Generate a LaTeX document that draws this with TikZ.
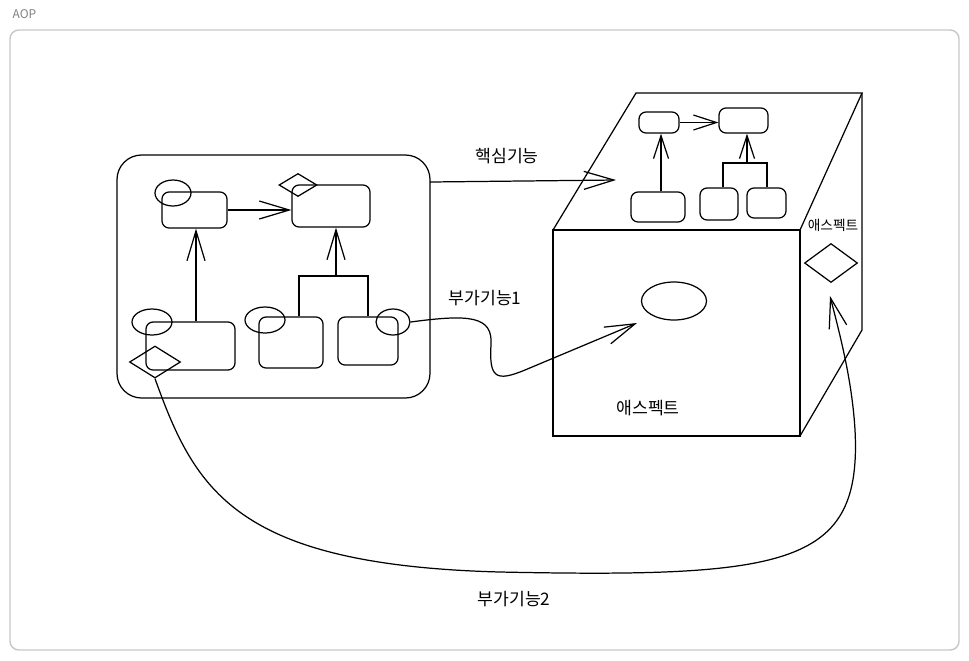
\documentclass[tikz,border=0pt]{standalone}
\usepackage{fontspec}
\setmainfont{Noto Sans CJK KR}
\usepackage{tikz}
\usetikzlibrary{shapes,shapes.geometric,positioning,calc,arrows.meta}

\begin{document}
\begin{tikzpicture}[
    x=0.02cm, y=-0.02cm,
    line width=0.7pt,
    every node/.style={inner sep=0pt},
    box/.style={draw, rounded corners=4pt, minimum width=#1},
    blob/.style={draw, ellipse},
    gem/.style={draw, diamond},
    lbl/.style={font=\fontsize{9.8pt}{11pt}\selectfont},
    barb/.style={-{Straight Barb[length=6mm,width=3.6mm]}},
    smallbarb/.style={-{Straight Barb[length=4.6mm,width=3mm]}}
]
    \useasboundingbox (0,0) rectangle (969,660);
    \draw[line width=0.8pt, black!22, rounded corners=5pt] (10,30) rectangle (959,650);
    \node[anchor=west, text=black!50, font=\fontsize{6.8pt}{7pt}\selectfont] (title) at (12,14) {AOP};

    \draw[rounded corners=14pt] (117,155) rectangle (430,398);
    \coordinate (bigE) at (430,182);

    \node[box=1.3cm, minimum height=0.72cm] (a) at (194.5,210) {};
    \node[box=1.56cm, minimum height=0.84cm] (b) at (331,206) {};
    \node[box=1.78cm, minimum height=0.96cm] (c) at (190.5,346) {};
    \node[box=1.28cm, minimum height=1.02cm] (d) at (291,342.5) {};
    \node[box=1.2cm, minimum height=0.96cm] (e) at (368,341) {};

    \node[blob, minimum width=0.72cm, minimum height=0.52cm] (ca) at (173,193) {};
    \node[blob, minimum width=0.8cm, minimum height=0.52cm] (cc) at (152,322) {};
    \node[blob, minimum width=0.8cm, minimum height=0.52cm] (cd) at (265,320) {};
    \node[blob, minimum width=0.68cm, minimum height=0.52cm] (ce) at (393,322) {};
    \node[gem, minimum width=0.76cm, minimum height=0.46cm] (db) at (298,185) {};
    \node[gem, minimum width=1.02cm, minimum height=0.64cm] (dc) at (155,362) {};

    \draw[barb] (a.east) -- (b.west |- a.east);
    \draw[barb] (c.north -| 196,0) -- (a.south -| 196,0);
    \coordinate (jl) at (299,276);
    \coordinate (jr) at (368,276);
    \coordinate (jm) at (336,276);
    \draw (d.north -| jl) -- (jl) -- (jr) -- (e.north -| jr);
    \draw[barb] (jm) -- (b.south -| jm);

    \coordinate (ftl) at (553,230);
    \coordinate (ftr) at (800,230);
    \coordinate (fbl) at (553,436);
    \coordinate (fbr) at (800,436);
    \coordinate (btl) at (636,93);
    \coordinate (btr) at (862,93);
    \coordinate (bbr) at (862,330);
    \draw (ftl) rectangle (fbr);
    \draw (ftl) -- (btl) -- (btr) -- (ftr);
    \draw (btr) -- (bbr) -- (fbr);

    \node[box=0.8cm, minimum height=0.42cm] (t1) at (659,122.5) {};
    \node[box=0.98cm, minimum height=0.5cm] (t2) at (743.5,120.5) {};
    \node[box=1.08cm, minimum height=0.6cm] (t3) at (658,207) {};
    \node[box=0.76cm, minimum height=0.64cm] (t4) at (719,204) {};
    \node[box=0.78cm, minimum height=0.6cm] (t5) at (766.5,203) {};
    \draw[smallbarb] (t1.east) -- (t2.west |- t1.east);
    \draw[smallbarb] (t3.north -| 661,0) -- (t1.south -| 661,0);
    \coordinate (tl) at (723,163);
    \coordinate (tr) at (767,163);
    \coordinate (tm) at (747,163);
    \draw (t4.north -| tl) -- (tl) -- (tr) -- (t5.north -| tr);
    \draw[smallbarb] (tm) -- (t2.south -| tm);

    \node[blob, minimum width=1.3cm, minimum height=0.76cm] (core) at (674,301) {};
    \node[gem, minimum width=1.06cm, minimum height=0.78cm] (ds) at (831,263) {};

    \coordinate (coreEnd) at (616,180);
    \draw[barb] (bigE) -- (coreEnd);
    \node[lbl] (l1) at (507,156) {핵심기능};

    \coordinate (advEnd) at (637,323);
    \draw[barb] (ce.east) .. controls (470,314) and (493,316) .. (491,345)
        .. controls (489,378) and (496,382) .. (525,370) -- (advEnd);
    \node[lbl] (l2) at (485,298) {부가기능1};

    \coordinate (aspTip) at (830,296);
    \draw[barb] (dc.south) .. controls (195,490) and (235,565) .. (500,572)
        .. controls (790,578) and (862,565) .. (855,430)
        .. controls (852,380) and (840,335) .. (aspTip);
    \node[lbl] (l3) at (514,599) {부가기능2};

    \node[lbl] (asp) at (648,408) {애스펙트};
    \node[font=\fontsize{7.8pt}{9pt}\selectfont] (asps) at (833,225) {애스펙트};
\end{tikzpicture}
\end{document}
